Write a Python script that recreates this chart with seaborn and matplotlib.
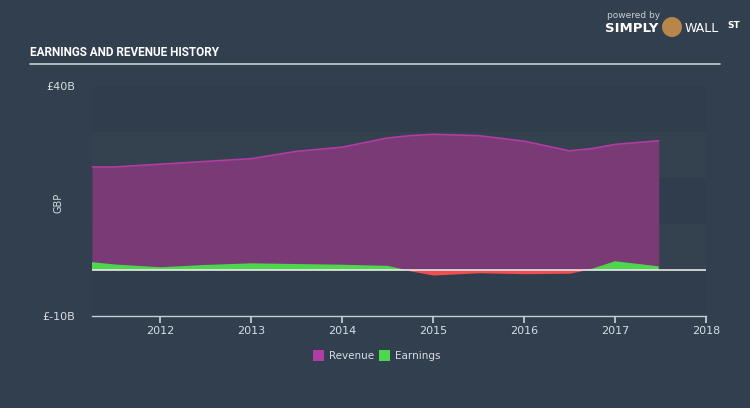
import numpy as np
import pandas as pd
import matplotlib
matplotlib.use("Agg")
import matplotlib.pyplot as plt
import seaborn as sns
from matplotlib.patches import Rectangle, Ellipse
from matplotlib import font_manager

# ---- data (GBP billions) ----
years = [2011.25, 2011.5, 2012.0, 2012.5, 2013.0, 2013.5, 2014.0, 2014.5,
         2014.75, 2015.0, 2015.5, 2016.0, 2016.5, 2016.75, 2017.0, 2017.48]
revenue = [22.4, 22.4, 23.0, 23.6, 24.2, 25.8, 26.7, 28.7,
           29.2, 29.5, 29.2, 28.0, 25.9, 26.4, 27.3, 28.1]
earnings = [1.7, 1.2, 0.6, 1.1, 1.45, 1.3, 1.15, 0.9,
            -0.2, -1.1, -0.6, -0.8, -0.7, 0.3, 1.9, 0.8]
xticks = [2012, 2013, 2014, 2015, 2016, 2017, 2018]
ytick_labels = ["£40B", "£-10B"]

df = pd.DataFrame({"year": years, "Revenue": revenue, "Earnings": earnings})

BG = "#323f4e"
REV_FILL = "#7a3a76"
REV_LINE = "#b13ca3"
EARN = "#4fd64f"
NEG = "#f04e50"
TXT = "#d8dde3"

sns.set_theme(style="dark")
plt.rcParams["font.family"] = ["DejaVu Sans"]

names = {f.name for f in font_manager.fontManager.ttflist}
if "Liberation Sans Narrow" in names:
    title_font, title_size = "Liberation Sans Narrow", 10.5
else:
    title_font, title_size = "Roboto", 8.5

fig = plt.figure(figsize=(7.5, 4.08), dpi=100, facecolor=BG)
ax = fig.add_axes([92/750, 1-316/408, (706-92)/750, (316-86)/408])
ax.set_facecolor(BG)
ax.set_xlim(2011.25, 2018)
ax.set_ylim(-10, 40)

# alternating bands
band_cols = ["#2f3d4c", "#34424f"]
for i, lo in enumerate(range(30, -20, -10)):
    ax.add_patch(Rectangle((2011.25, lo), 6.75, 10, facecolor=band_cols[i % 2],
                           edgecolor="none", zorder=0))

x = np.array(years)
e = np.array(earnings)
ax.fill_between(x, 0, revenue, color=REV_FILL, lw=0, zorder=2)
sns.lineplot(data=df, x="year", y="Revenue", ax=ax, color=REV_LINE, lw=1.2, zorder=3)
ax.fill_between(x, 0, e, where=e >= 0, interpolate=True, color=EARN, lw=0, zorder=4)
ax.fill_between(x, 0, e, where=e <= 0, interpolate=True, color=NEG, lw=0, zorder=4)
ax.axhline(0, color="#e8e8e8", lw=1.2, zorder=5)

for s in ["top", "right", "left"]:
    ax.spines[s].set_visible(False)
ax.spines["bottom"].set_visible(True)
ax.spines["bottom"].set_color("#c8ced6")
ax.spines["bottom"].set_linewidth(1.0)

ax.set_xticks(xticks)
ax.set_xticklabels([str(t) for t in xticks], color=TXT, fontsize=8)
ax.tick_params(axis="x", length=5, color="#c8ced6", direction="out", pad=2, bottom=True)
ax.set_yticks([40, -10])
ax.set_yticklabels(ytick_labels, color=TXT, fontsize=8)
ax.tick_params(axis="y", length=0, pad=12)
ax.set_xlabel("")
ax.set_ylabel("")
fig.text(58/750, 1-203/408, "GBP", color=TXT, fontsize=7, rotation=90,
         ha="center", va="center")
ax.grid(False)

# title and rule
fig.text(30/750, 1-53/408, "EARNINGS AND REVENUE HISTORY", color="white",
         fontsize=title_size, fontweight="bold", family=title_font,
         va="center", ha="left")
fig.add_artist(plt.Line2D([30/750, 720/750], [1-64/408, 1-64/408], color="#c8ced6", lw=1.2))

# legend
fig.patches.append(Rectangle((313/750, 1-361/408), 11/750, 11/408, facecolor="#b13ca3",
                             edgecolor="none", transform=fig.transFigure, figure=fig))
fig.text(329/750, 1-356/408, "Revenue", color=TXT, fontsize=7.5, va="center")
fig.patches.append(Rectangle((379/750, 1-361/408), 11/750, 11/408, facecolor=EARN,
                             edgecolor="none", transform=fig.transFigure, figure=fig))
fig.text(395/750, 1-356/408, "Earnings", color=TXT, fontsize=7.5, va="center")

# branding
fig.text(607/750, 1-15/408, "powered by", color="#c8ced6", fontsize=6.5, va="center")
fig.text(605/750, 1-28/408, "SIMPLY", color="white", fontsize=9.5, fontweight="bold", va="center")
fig.patches.append(Ellipse((672/750, 1-27/408), 20/750, 20/408, facecolor="#b8864b",
                           edgecolor="none", transform=fig.transFigure, figure=fig))
fig.text(685/750, 1-28/408, "WALL", color="white", fontsize=9, va="center")
fig.text(727/750, 1-25/408, "ST", color="white", fontsize=6.5, fontweight="bold", va="center")

fig.savefig("out.png", dpi=100, facecolor=BG)
